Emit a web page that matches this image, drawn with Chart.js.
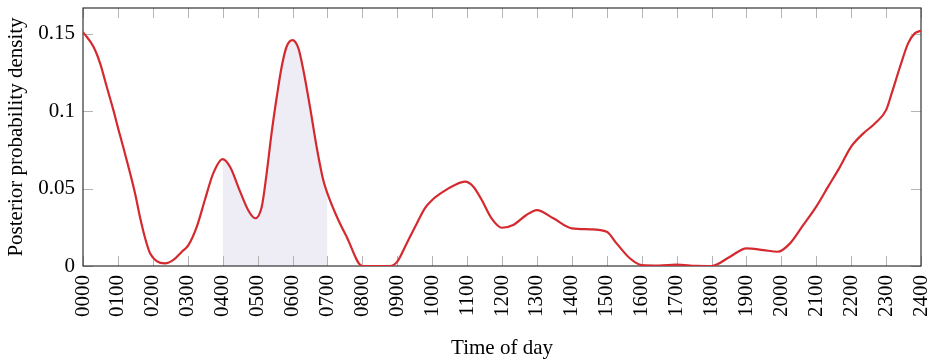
<!DOCTYPE html>
<html>
<head>
<meta charset="utf-8">
<script src="https://cdn.jsdelivr.net/npm/chart.js@4/dist/chart.umd.min.js"></script>
<style>
  html, body { margin: 0; padding: 0; background: #fff; }
</style>
</head>
<body>
<canvas id="densityChart" width="930" height="363"></canvas>
<script>
// hour of day (0-24) and the posterior density
const hours = [
  0, 0.3, 0.49, 0.68, 0.87, 1.01, 1.15, 1.35, 1.49, 1.63, 1.78, 1.92,
  2.11, 2.35, 2.59, 2.83, 3.02, 3.26, 3.49, 3.73, 4.0, 4.21, 4.5, 4.73,
  4.93, 5.12, 5.26, 5.4, 5.55, 5.69, 5.83, 6.0, 6.17, 6.31, 6.5, 6.69,
  6.88, 7.0, 7.27, 7.55, 8.0, 8.79, 9.0, 9.27, 9.56, 9.79, 10.0, 10.32,
  10.65, 10.94, 11.18, 11.42, 11.7, 12.0, 12.32, 12.7, 13.0, 13.47, 14.0,
  14.52, 15.0, 15.28, 15.66, 16.0, 16.5, 17.0, 17.57, 18.0, 18.53, 19.0,
  19.48, 19.9, 20.25, 20.63, 21.0, 21.34, 21.68, 22.0, 22.35, 22.68, 23.0,
  23.16, 23.4, 23.63, 23.82, 24.0
];
const density = [
  0.151, 0.1415, 0.1308, 0.1157, 0.1006, 0.0885, 0.077, 0.0598, 0.0469, 0.0318, 0.0179, 0.0082,
  0.0032, 0.0017, 0.0039, 0.0092, 0.0135, 0.0254, 0.0426, 0.0598, 0.069, 0.064, 0.048, 0.0361,
  0.0308, 0.0383, 0.0598, 0.0856, 0.1092, 0.1286, 0.1415, 0.1458, 0.1404, 0.1265, 0.1028, 0.077,
  0.0555, 0.0469, 0.0318, 0.0189, 0, 0, 0.0028, 0.0146, 0.0275, 0.0372, 0.0426, 0.048,
  0.0523, 0.0544, 0.0512, 0.0426, 0.0308, 0.0247, 0.0265, 0.0329, 0.0361, 0.0308, 0.0243,
  0.0237, 0.0221, 0.0146, 0.005, 0.0006, 0.0003, 0.0009, 0.0001, 0, 0.006, 0.0114,
  0.0103, 0.0092, 0.0146, 0.0265, 0.0383, 0.0512, 0.064, 0.077, 0.0856, 0.092, 0.1006,
  0.1114, 0.1286, 0.1437, 0.1501, 0.1518
];

// shaded interval (hours)
const shadeFrom = 4;
const shadeTo = 7;

const xTicks = [0,1,2,3,4,5,6,7,8,9,10,11,12,13,14,15,16,17,18,19,20,21,22,23,24];
const timeLabels = ['0000','0100','0200','0300','0400','0500','0600','0700','0800','0900','1000','1100',
  '1200','1300','1400','1500','1600','1700','1800','1900','2000','2100','2200','2300','2400'];
const yTicks = [0, 0.05, 0.1, 0.15];
const yTickLabels = ['0', '0.05', '0.1', '0.15'];

const linePoints = hours.map((h, i) => ({ x: h, y: density[i] }));
const shadePoints = linePoints.filter(p => p.x >= shadeFrom && p.x <= shadeTo);

const serif = "'Liberation Serif', 'DejaVu Serif', serif";

// frame + inward tick marks like pgfplots
const framePlugin = {
  id: 'frame',
  afterDatasetDraw(chart, args) {
    if (args.index !== 1) return;
    const ctx = chart.ctx;
    const a = chart.chartArea;
    const xs = chart.scales.x, ys = chart.scales.y;
    const len = 10;
    ctx.save();
    ctx.strokeStyle = '#b4b4b4';
    ctx.lineWidth = 1;
    ctx.beginPath();
    xTicks.forEach(v => {
      const px = Math.round(xs.getPixelForValue(v)) + 0.5;
      ctx.moveTo(px, a.bottom); ctx.lineTo(px, a.bottom - len);
      ctx.moveTo(px, a.top); ctx.lineTo(px, a.top + len);
    });
    yTicks.forEach(v => {
      const py = Math.round(ys.getPixelForValue(v)) + 0.5;
      ctx.moveTo(a.left, py); ctx.lineTo(a.left + len, py);
      ctx.moveTo(a.right, py); ctx.lineTo(a.right - len, py);
    });
    ctx.stroke();
    ctx.strokeStyle = '#333';
    ctx.lineWidth = 1.2;
    ctx.strokeRect(a.left, a.top, a.right - a.left, a.bottom - a.top);
    ctx.restore();
  }
};

function noPadding(s) {
  s.paddingTop = 0;
  s.paddingBottom = 0;
  s.paddingLeft = 0;
  s.paddingRight = 0;
}

const ctx = document.getElementById('densityChart').getContext('2d');
new Chart(ctx, {
  type: 'line',
  data: {
    datasets: [
      {
        data: linePoints,
        borderColor: '#d42a2f',
        borderWidth: 2.2,
        pointRadius: 0,
        fill: false,
        cubicInterpolationMode: 'monotone'
      },
      {
        data: shadePoints,
        borderWidth: 0,
        borderColor: 'rgba(0,0,0,0)',
        backgroundColor: '#eeedf5',
        pointRadius: 0,
        fill: 'origin',
        cubicInterpolationMode: 'monotone'
      }
    ]
  },
  options: {
    responsive: false,
    animation: false,
    layout: { padding: { top: 8, right: 9, left: 0, bottom: 0 } },
    plugins: { legend: { display: false }, tooltip: { enabled: false } },
    scales: {
      x: {
        type: 'linear',
        min: 0,
        max: 24,
        grid: { display: false, drawTicks: false },
        border: { display: false },
        afterBuildTicks: s => { s.ticks = xTicks.map(v => ({ value: v })); },
        afterFit: s => { s.height = 97; noPadding(s); },
        ticks: {
          autoSkip: false,
          minRotation: 90,
          maxRotation: 90,
          padding: 9,
          color: '#000',
          font: { family: serif, size: 21 },
          callback: (v, i) => timeLabels[i]
        },
        title: {
          display: true,
          text: 'Time of day',
          color: '#000',
          font: { family: serif, size: 21 },
          padding: { top: 0, bottom: 2 }
        }
      },
      y: {
        min: 0,
        max: 0.1665,
        grid: { display: false, drawTicks: false },
        border: { display: false },
        afterBuildTicks: s => { s.ticks = yTicks.map(v => ({ value: v })); },
        afterFit: s => { s.width = 83; noPadding(s); },
        ticks: {
          padding: 8,
          color: '#000',
          font: { family: serif, size: 21 },
          callback: (v, i) => yTickLabels[i]
        },
        title: {
          display: true,
          text: 'Posterior probability density',
          color: '#000',
          font: { family: serif, size: 21 },
          padding: { top: 4, bottom: 0 }
        }
      }
    }
  },
  plugins: [framePlugin]
});
</script>
</body>
</html>
